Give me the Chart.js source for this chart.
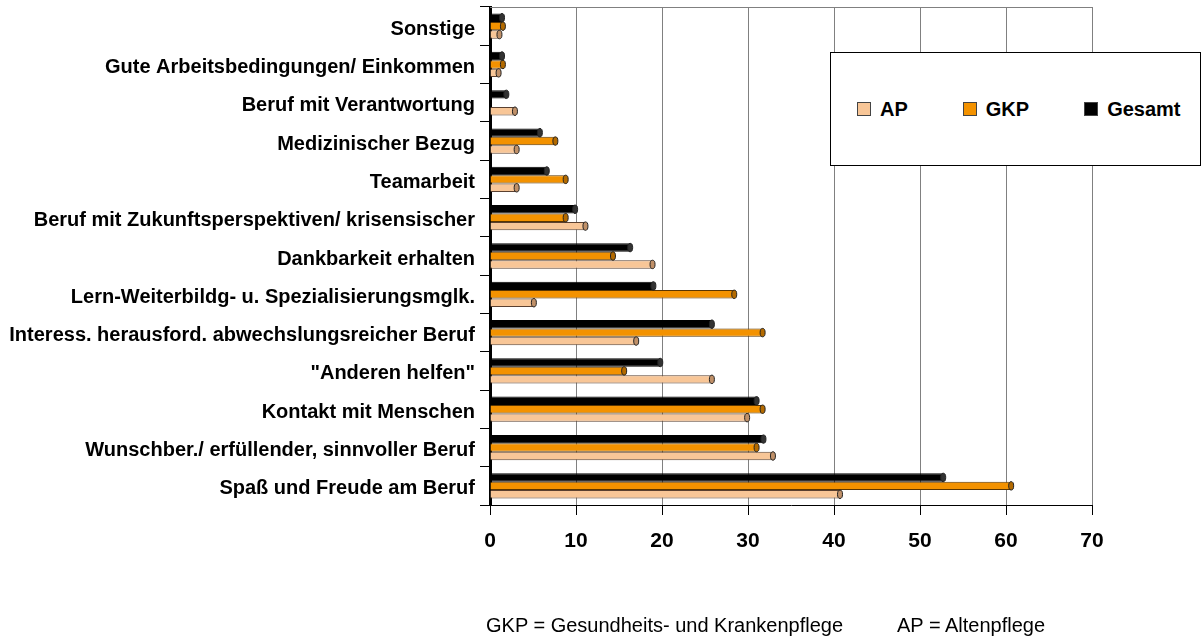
<!DOCTYPE html>
<html lang="de">
<head>
<meta charset="utf-8">
<title>Gründe für die Berufswahl</title>
<script src="https://cdn.jsdelivr.net/npm/chart.js@4.4.1/dist/chart.umd.min.js"></script>
<style>
  html, body { margin: 0; padding: 0; background: #fff; }
  #wrap { position: relative; width: 1202px; height: 638px; font-family: "Liberation Sans", Arial, sans-serif; }
  #legende {
    position: absolute; left: 830px; top: 52px; width: 371px; height: 114px;
    border: 1px solid #000; background: #fff; box-sizing: border-box;
    display: flex; align-items: center; padding-left: 26px;
    font-weight: bold; font-size: 20px; color: #000;
  }
  #legende .eintrag { display: flex; align-items: center; margin-right: 55px; }
  #legende .box { width: 12px; height: 12px; border: 1px solid #444; margin-right: 9px; }
  .fuss { position: absolute; top: 614px; font-size: 20px; color: #000; white-space: nowrap; }
</style>
</head>
<body>
<div id="wrap">
  <canvas id="gruende" width="1202" height="638"></canvas>
  <div id="legende"></div>
  <div class="fuss" style="left:486px">GKP = Gesundheits- und Krankenpflege</div>
  <div class="fuss" style="left:897px">AP = Altenpflege</div>
</div>
<script>
const kategorien = [
  'Sonstige',
  'Gute Arbeitsbedingungen/ Einkommen',
  'Beruf mit Verantwortung',
  'Medizinischer Bezug',
  'Teamarbeit',
  'Beruf mit Zukunftsperspektiven/ krisensischer',
  'Dankbarkeit erhalten',
  'Lern-Weiterbildg- u. Spezialisierungsmglk.',
  'Interess. herausford. abwechslungsreicher Beruf',
  '"Anderen helfen"',
  'Kontakt mit Menschen',
  'Wunschber./ erfüllender, sinnvoller Beruf',
  'Spaß und Freude am Beruf'
];
const werteAP      = [1.1, 1.0, 2.9, 3.1, 3.1, 11.1, 18.9, 5.1, 17.0, 25.8, 29.9, 32.9, 40.7];
const werteGKP     = [1.5, 1.5, 0,   7.6, 8.8, 8.8,  14.3, 28.4, 31.7, 15.6, 31.7, 31.0, 60.6];
const werteGesamt  = [1.4, 1.4, 1.9, 5.8, 6.6, 9.9,  16.3, 19.0, 25.8, 19.8, 31.0, 31.8, 52.7];
const achsenMax = 70;
const achsenSchritt = 10;

const schrift = '"Liberation Sans", Arial, sans-serif';

// kleine Kappe am Balkenende für den Zylinder-Look
const endkappen = {
  id: 'endkappen',
  afterDatasetsDraw(chart) {
    const ctx = chart.ctx;
    chart.data.datasets.forEach((ds, i) => {
      chart.getDatasetMeta(i).data.forEach((bar, j) => {
        if (!ds.data[j]) return;
        ctx.save();
        ctx.beginPath();
        ctx.ellipse(bar.x, bar.y, 2.5, bar.height / 2, 0, 0, Math.PI * 2);
        ctx.fillStyle = ds.kappe;
        ctx.fill();
        ctx.strokeStyle = '#222';
        ctx.lineWidth = 1;
        ctx.stroke();
        ctx.restore();
      });
    });
  }
};

// obere Rahmenlinie der Zeichenfläche
const rahmenOben = {
  id: 'rahmenOben',
  beforeDatasetsDraw(chart) {
    const { ctx, chartArea } = chart;
    ctx.save();
    ctx.strokeStyle = '#808080';
    ctx.lineWidth = 1;
    ctx.beginPath();
    ctx.moveTo(chartArea.left, chartArea.top + 0.5);
    ctx.lineTo(chartArea.right, chartArea.top + 0.5);
    ctx.stroke();
    ctx.restore();
  }
};

const chart = new Chart(document.getElementById('gruende'), {
  type: 'bar',
  data: {
    labels: kategorien,
    datasets: [
      { label: 'Gesamt', data: werteGesamt, backgroundColor: '#000000', borderColor: '#000000', borderWidth: 1, kappe: '#333333' },
      { label: 'GKP', data: werteGKP, backgroundColor: '#F39200', borderColor: '#5a3500', borderWidth: 1, kappe: '#b36a00' },
      { label: 'AP', data: werteAP, backgroundColor: '#F8C697', borderColor: '#5a4030', borderWidth: 1, kappe: '#c09068' }
    ]
  },
  options: {
    indexAxis: 'y',
    responsive: false,
    animation: false,
    layout: { padding: { top: 7, right: 110, left: 0, bottom: 0 } },
    datasets: { bar: { categoryPercentage: 0.66, barPercentage: 1.0 } },
    plugins: { legend: { display: false }, tooltip: { enabled: false } },
    scales: {
      x: {
        min: 0,
        max: achsenMax,
        ticks: { stepSize: achsenSchritt, color: '#000', padding: 14, font: { family: schrift, size: 21, weight: 'bold' } },
        grid: { color: '#808080', tickColor: '#000', tickLength: 10, lineWidth: 1 },
        border: { color: '#000', width: 1 },
        afterFit(scale) { scale.height = 133; }
      },
      y: {
        ticks: { color: '#000', padding: 5, labelOffset: 3, font: { family: schrift, size: 20, weight: 'bold' } },
        grid: { drawOnChartArea: false, tickColor: '#000', tickLength: 10, offset: true },
        border: { color: '#000', width: 3 },
        afterFit(scale) {
          scale.width = 490;
          scale.paddingTop = 0;
          scale.paddingBottom = 0;
        }
      }
    }
  },
  plugins: [rahmenOben, endkappen]
});

// Legende in der Reihenfolge AP, GKP, Gesamt
const legende = document.getElementById('legende');
chart.data.datasets.slice().reverse().forEach(ds => {
  const e = document.createElement('div');
  e.className = 'eintrag';
  e.innerHTML = '<span class="box" style="background:' + ds.backgroundColor + '"></span>' + ds.label;
  legende.appendChild(e);
});
</script>
</body>
</html>
